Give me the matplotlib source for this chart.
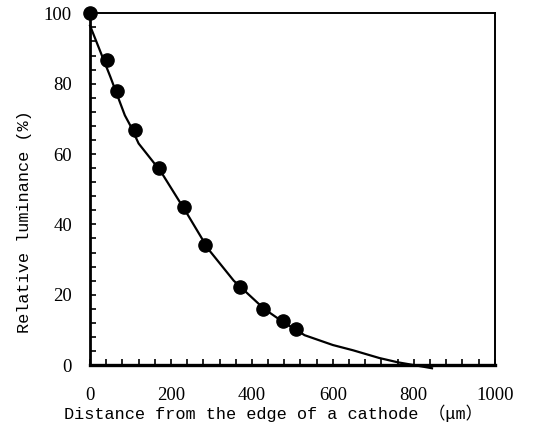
import matplotlib
matplotlib.use("Agg")
import matplotlib.pyplot as plt
from matplotlib.ticker import MultipleLocator

# measured points
dist_um = [0, 41, 67, 111, 171, 233, 283, 370, 428, 476, 508]
lum_pct = [100, 86.6, 77.9, 66.8, 56.1, 44.8, 34.1, 22.3, 15.9, 12.4, 10.3]

# fitted curve
fit_x = [0, 50, 86, 100, 120, 175, 240, 292, 355, 430, 480, 510, 530, 600, 650, 715, 760, 800, 845]
fit_y = [96.5, 82, 71, 68, 63, 55, 43, 33, 24, 16, 12, 10, 8.5, 5.7, 4.2, 2.0, 0.8, 0, -0.9]

label_font = ["Liberation Mono", "Noto Sans CJK JP"]
tick_font = "Liberation Serif"

fig = plt.figure(figsize=(5.36, 4.30), dpi=100)
ax = fig.add_axes([0.168, 0.151, 0.755, 0.818])

ax.plot(fit_x, fit_y, color="black", linewidth=1.6, clip_on=False, zorder=2)
ax.plot(dist_um, lum_pct, "o", color="black", markersize=9.5, clip_on=False, zorder=3)

ax.set_xlim(0, 1000)
ax.set_ylim(0, 100)

ax.xaxis.set_major_locator(MultipleLocator(200))
ax.xaxis.set_minor_locator(MultipleLocator(40))
ax.yaxis.set_major_locator(MultipleLocator(20))
ax.yaxis.set_minor_locator(MultipleLocator(4))

ax.tick_params(axis="x", which="both", direction="in", length=4, width=1.2,
               top=False, pad=16, labelsize=13.5)
ax.tick_params(axis="y", which="both", direction="in", length=4, width=1.2,
               right=False, pad=13, labelsize=13.5)

for lab in ax.get_xticklabels() + ax.get_yticklabels():
    lab.set_fontfamily(tick_font)

ax.spines["left"].set_linewidth(2.0)
ax.spines["bottom"].set_linewidth(2.4)
ax.spines["top"].set_linewidth(1.4)
ax.spines["right"].set_linewidth(1.4)

ax.set_xlabel("Distance from the edge of a cathode \uff08\u03bcm\uff09",
              family=label_font, fontsize=12.2)
ax.set_ylabel("Relative luminance (%)", family=label_font, fontsize=12.2)
ax.xaxis.set_label_coords(0.452, -0.112)
ax.yaxis.set_label_coords(-0.143, 0.409)

fig.savefig("out.png", dpi=100)
